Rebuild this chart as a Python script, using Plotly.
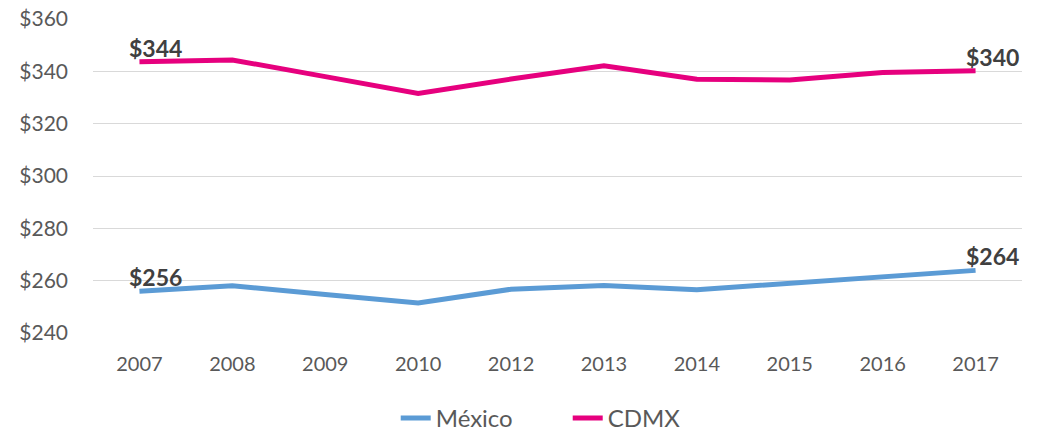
import plotly.graph_objects as go

years = ["2007", "2008", "2009", "2010", "2012", "2013", "2014", "2015", "2016", "2017"]
mexico = [255.9, 258.0, 254.7, 251.4, 256.7, 258.1, 256.5, 259.1, 261.4, 263.9]
cdmx = [343.7, 344.4, 338.0, 331.6, 337.1, 342.2, 337.0, 336.7, 339.6, 340.3]
y_ticks = [240, 260, 280, 300, 320, 340, 360]
y_tick_text = ["$" + str(v) for v in y_ticks]

blue = "#5B9BD5"
pink = "#E6007E"
font_family = "Lato, 'Open Sans', sans-serif"

fig = go.Figure()
fig.add_trace(go.Scatter(x=years, y=mexico, name="México", mode="lines",
                         line=dict(color=blue, width=5)))
fig.add_trace(go.Scatter(x=years, y=cdmx, name="CDMX", mode="lines",
                         line=dict(color=pink, width=5)))

def label(series, idx):
    v = series[idx]
    fig.add_annotation(x=idx, y=v, xref="x", yref="y",
                       text="<b>$" + str(round(v)) + "</b>",
                       showarrow=False, xanchor="left", yanchor="bottom",
                       xshift=-12, yshift=-2,
                       font=dict(size=23, color="#404040", family=font_family))

for s in (mexico, cdmx):
    label(s, 0)
    label(s, len(years) - 1)

fig.update_layout(
    width=1037, height=431,
    margin=dict(l=93, r=15, t=19, b=98, autoexpand=False),
    paper_bgcolor="white", plot_bgcolor="white",
    font=dict(family=font_family, color="#595959"),
    showlegend=True,
    legend=dict(orientation="h", x=0.511, xanchor="center", y=-0.272, yanchor="middle",
                font=dict(size=24, color="#595959"), entrywidth=127,
                entrywidthmode="pixels"),
    xaxis=dict(type="category", range=[-0.5, 9.5], showgrid=False, showline=False,
               ticks="", tickfont=dict(size=20, color="#595959"), ticklabelstandoff=17),
    yaxis=dict(range=[239.95, 360.05], tickvals=y_ticks, ticktext=y_tick_text,
               showgrid=True, gridcolor="#D9D9D9", gridwidth=1, zeroline=False,
               showline=False, ticks="", tickfont=dict(size=21, color="#595959"),
               ticklabelstandoff=24, ticklabeloverflow="allow"),
)

fig.write_html("out.html", config={"displayModeBar": False},
               post_script="document.body.style.margin='0';")
